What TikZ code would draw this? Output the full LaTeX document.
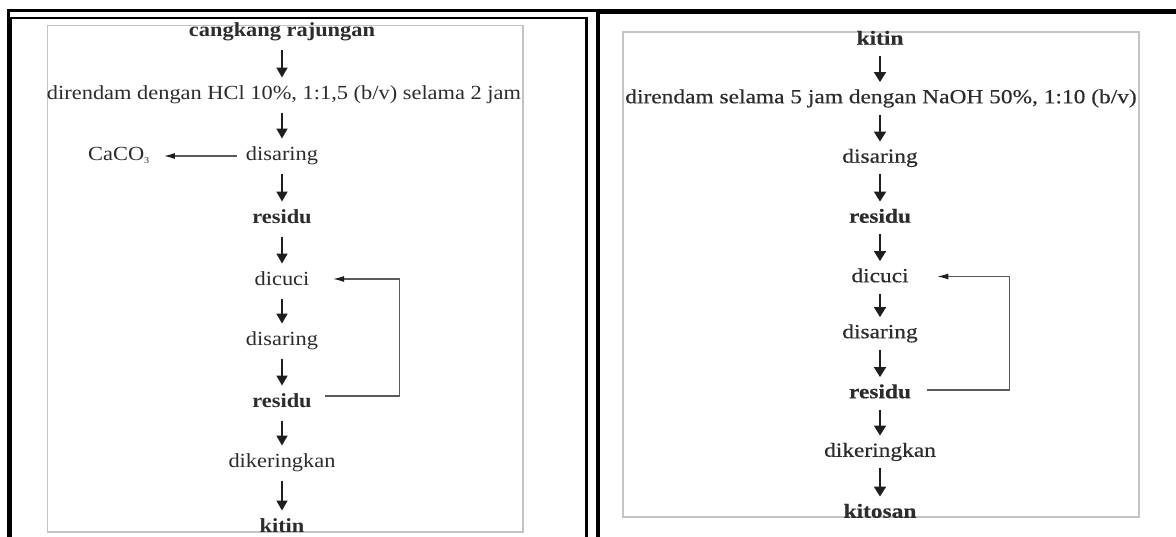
\documentclass[tikz,border=0pt]{standalone}
\usepackage{fontspec}
\setmainfont{Liberation Serif}
\newfontfamily\lf{Liberation Serif}[FakeStretch=1.12]
\newfontfamily\rf{Liberation Serif}[FakeStretch=1.17,FakeBold=0.4]
\usetikzlibrary{arrows.meta}
\definecolor{txt}{HTML}{2C2C2C}
\definecolor{arr}{HTML}{1E1E1E}
\definecolor{loopc}{HTML}{5A5A5A}
\definecolor{boxc}{HTML}{C4C4C4}
\begin{document}
\begin{tikzpicture}[x=1pt,y=-1pt,
  lbl/.style={inner sep=0pt, text height=14pt, text depth=4.5pt, text=txt, font=\lf\fontsize{20}{22}\selectfont},
  rlbl/.style={inner sep=0pt, text height=14pt, text depth=4.5pt, text=txt, font=\rf\fontsize{20}{22}\selectfont},
  flowl/.style={draw=arr, line width=1.7pt, -{Triangle[width=11pt,length=10pt]}, shorten <=9pt, shorten >=8pt},
  flowr/.style={draw=arr, line width=1.9pt, -{Triangle[width=12pt,length=10pt]}, shorten <=7pt, shorten >=7pt},
  back/.style={draw=loopc, line width=1.2pt, -{Latex[length=11pt,width=6pt,color=arr]}},
  inbox/.style={draw=boxc, line width=1.3pt}]
\useasboundingbox (0,0) rectangle (1176,537);
\fill[white] (0,0) rectangle (1176,537);
% inner grey boxes
\draw[inbox] (47.5,25.5) rectangle (523,532);
\draw[inbox] (623,32) rectangle (1139,517);
% black frames
\draw[black, line width=3pt] (8.5,537) -- (8.5,10.5) -- (597,10.5);
\draw[black, line width=5pt] (597,11.5) -- (1176,11.5);
\draw[black, line width=3.5pt] (598,9) -- (598,537);
\draw[black, line width=1.5pt] (11,537) -- (11,18);
\draw[black, line width=2.5pt] (10,18) -- (586.5,18);
\draw[black, line width=3.5pt] (586.5,16.75) -- (586.5,537);
% left panel
\node[lbl] (l1) at (282,32) {\bfseries cangkang rajungan};
\node[lbl] (l2) at (284,95) {direndam dengan HCl 10\%, 1:1,5 (b/v) selama 2 jam};
\node[lbl] (l3) at (282,156) {disaring};
\node[lbl] (caco) at (119,156) {CaCO\textsubscript{\fontsize{9}{9}\selectfont 3}};
\node[lbl] (l4) at (282,219) {\bfseries residu};
\node[lbl] (l5) at (282,281) {dicuci};
\node[lbl] (l6) at (282,341) {disaring};
\node[lbl] (l7) at (282,403) {\bfseries residu};
\node[lbl] (l8) at (282,463) {dikeringkan};
\node[lbl] (l9) at (282,528) {\bfseries kitin};
\draw[flowl] (l1.south -| l3) -- (l2.north -| l3);
\draw[flowl] (l2.south -| l3) -- (l3);
\draw[flowl] (l3) -- (l4);
\draw[flowl] (l4) -- (l5);
\draw[flowl] (l5) -- (l6);
\draw[flowl] (l6) -- (l7);
\draw[flowl] (l7) -- (l8);
\draw[flowl] (l8) -- (l9);
\draw[back] ([xshift=-9pt]l3.west) -- ([xshift=14pt]caco.east);
\draw[back] ([xshift=13pt,yshift=7pt]l7.east) -- ++(75,0) |- ([xshift=23.5pt,yshift=2pt]l5.east);
% right panel
\node[rlbl] (r1) at (880,40) {\bfseries kitin};
\node[rlbl] (r2) at (881,98.5) {direndam selama 5 jam dengan NaOH 50\%, 1:10 (b/v)};
\node[rlbl] (r3) at (880,158) {disaring};
\node[rlbl] (r4) at (880,218) {\bfseries residu};
\node[rlbl] (r5) at (880,277.5) {dicuci};
\node[rlbl] (r6) at (880,333.5) {disaring};
\node[rlbl] (r7) at (880,393.5) {\bfseries residu};
\node[rlbl] (r8) at (880,452) {dikeringkan};
\node[rlbl] (r9) at (880,513) {\bfseries kitosan};
\draw[flowr] (r1.south -| r3) -- (r2.north -| r3);
\draw[flowr] (r2.south -| r3) -- (r3);
\draw[flowr] (r3) -- (r4);
\draw[flowr] (r4) -- (r5);
\draw[flowr] (r5) -- (r6);
\draw[flowr] (r6) -- (r7);
\draw[flowr] (r7) -- (r8);
\draw[flowr] (r8) -- (r9);
\draw[back] ([xshift=16pt,yshift=3.5pt]r7.east) -- ++(82,0) |- ([xshift=28.5pt,yshift=1pt]r5.east);
\end{tikzpicture}
\end{document}
